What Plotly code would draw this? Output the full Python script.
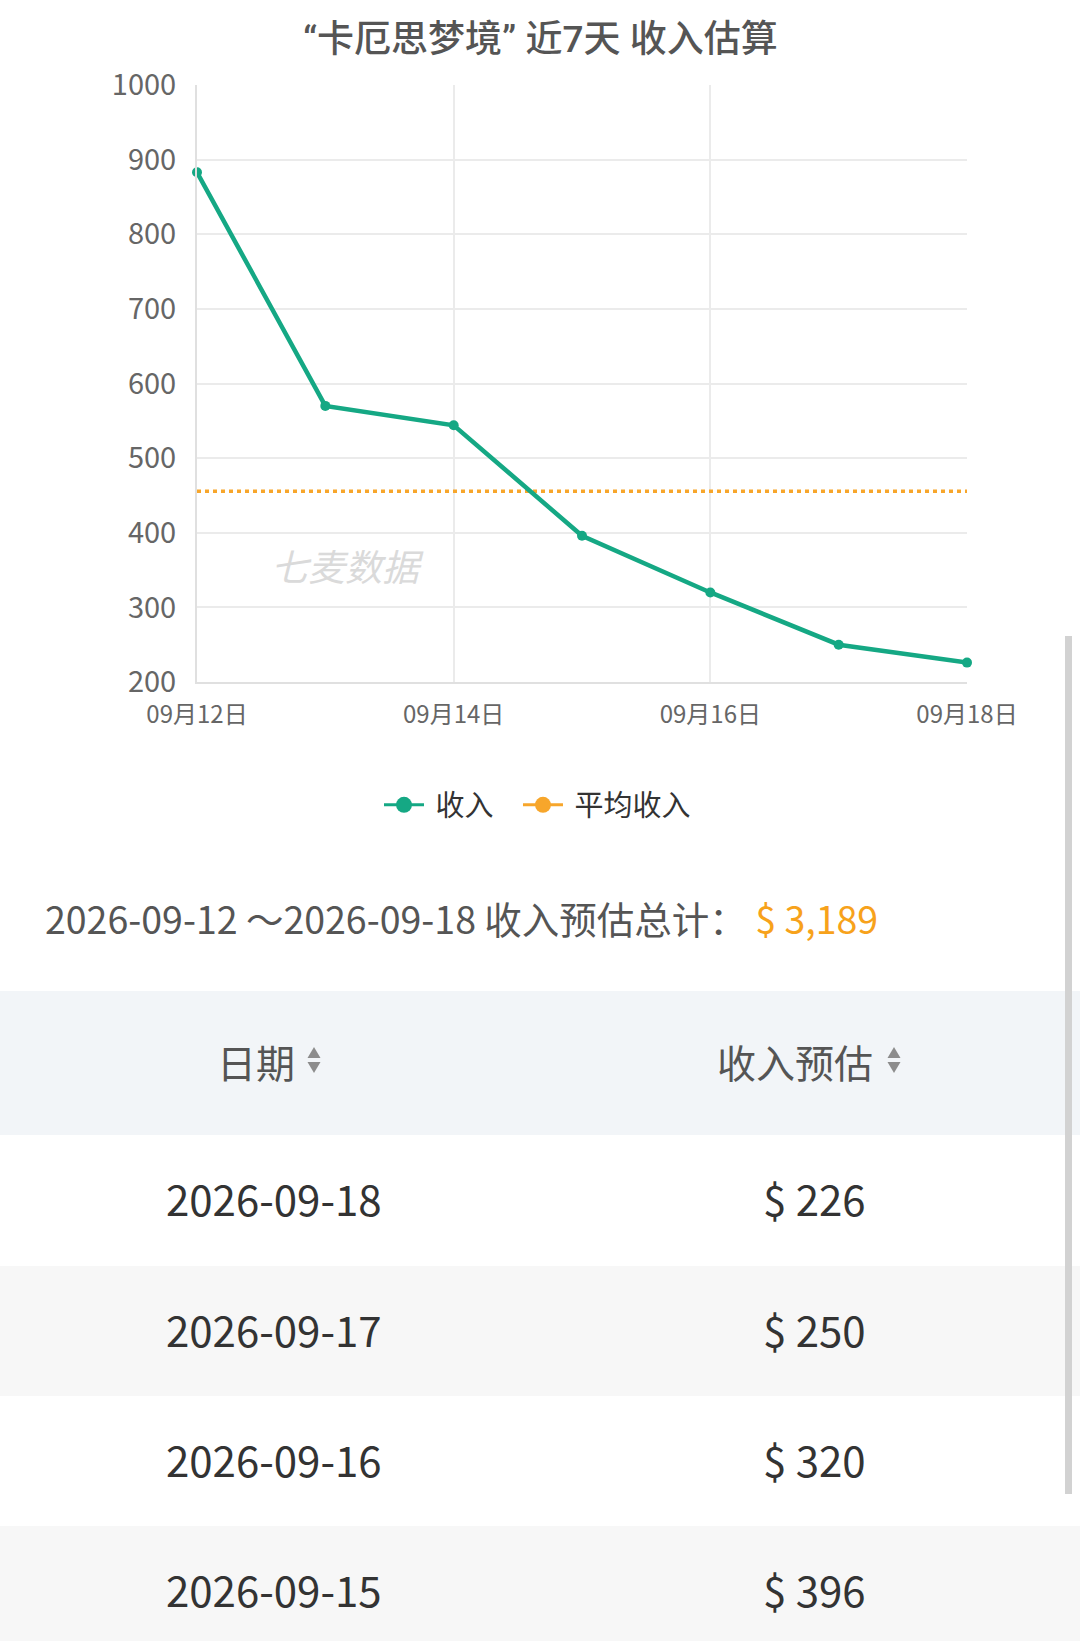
import plotly.graph_objects as go

# ---------------- data ----------------
dates = ["2026-09-12", "2026-09-13", "2026-09-14", "2026-09-15",
         "2026-09-16", "2026-09-17", "2026-09-18"]
day_labels = ["09月12日", "09月13日", "09月14日", "09月15日",
              "09月16日", "09月17日", "09月18日"]
revenue = [883, 570, 544, 396, 320, 250, 226]
y_ticks = [200, 300, 400, 500, 600, 700, 800, 900, 1000]
title_text = "“卡厄思梦境” 近7天 收入估算"
series_name = "收入"
avg_name = "平均收入"
watermark = "七麦数据"
header_labels = ["日期", "收入预估"]
visible_rows = 4

total = sum(revenue)
avg = total / len(revenue)

# ---------------- style ----------------
W, H = 1080, 1641
FONT = "Noto Sans CJK SC"
TITLE_FONT = "Roboto, Noto Sans CJK SC"
GREEN = "#15a884"
ORANGE = "#f7a62b"
GAP = "\u00a0"


def px(x):
    return x / W


def py(y):
    return 1 - y / H


fig = go.Figure()

fig.add_trace(go.Scatter(
    x=day_labels, y=[avg] * len(day_labels), mode="lines",
    line=dict(color=ORANGE, width=3.5, dash="4px,4px"),
    showlegend=False, hoverinfo="skip"))

fig.add_trace(go.Scatter(
    x=day_labels, y=revenue, mode="lines+markers",
    line=dict(color=GREEN, width=4.5),
    marker=dict(color=GREEN, size=10),
    showlegend=False, cliponaxis=False))

# legend-only entries
fig.add_trace(go.Scatter(
    x=[None], y=[None], mode="lines+markers", name=GAP + series_name + GAP * 3,
    line=dict(color=GREEN, width=3), marker=dict(color=GREEN, size=16)))
fig.add_trace(go.Scatter(
    x=[None], y=[None], mode="lines+markers", name=GAP + avg_name,
    line=dict(color=ORANGE, width=3), marker=dict(color=ORANGE, size=16)))

annotations = []
shapes = []

# title
annotations.append(dict(
    text=title_text, xref="paper", yref="paper", x=0.5, y=py(39),
    xanchor="center", yanchor="middle", showarrow=False,
    font=dict(family=TITLE_FONT, size=37, color="#555555", weight=500)))

# watermark
annotations.append(dict(
    text=watermark, xref="paper", yref="paper", x=px(347), y=py(565),
    xanchor="center", yanchor="middle", showarrow=False,
    font=dict(family=FONT, size=37, color="#dadada", style="italic")))

# total line
annotations.append(dict(
    text=f"{dates[0]} ～{dates[-1]} 收入预估总计： "
         f"<span style='color:#f7a21b'>$ {total:,}</span>",
    xref="paper", yref="paper", x=px(43), y=py(917),
    xanchor="left", yanchor="middle", showarrow=False,
    font=dict(family=FONT, size=37.5, color="#555555")))

# table header background
shapes.append(dict(type="rect", xref="paper", yref="paper", layer="below",
                   x0=0, x1=1, y0=py(1135), y1=py(991),
                   fillcolor="#f2f5f8", line=dict(width=0)))

header_centers = [256, 795]
icon_x = [314, 894]
for lab, cx, ix in zip(header_labels, header_centers, icon_x):
    annotations.append(dict(
        text=lab, xref="paper", yref="paper", x=px(cx), y=py(1061),
        xanchor="center", yanchor="middle", showarrow=False,
        font=dict(family=FONT, size=39, color="#555555")))
    # sort arrows
    up = f"M {px(ix-6.5)} {py(1058)} L {px(ix+6.5)} {py(1058)} L {px(ix)} {py(1047)} Z"
    dn = f"M {px(ix-6.5)} {py(1062)} L {px(ix+6.5)} {py(1062)} L {px(ix)} {py(1073)} Z"
    for p in (up, dn):
        shapes.append(dict(type="path", xref="paper", yref="paper", path=p,
                           fillcolor="#8c8c8c", line=dict(width=0)))

# table rows
row_tops = [1135, 1266, 1396, 1526]
row_bottoms = [1266, 1396, 1526, 1641]
row_text_y = [1197, 1328, 1458, 1588]
rows = list(zip(dates[::-1], revenue[::-1]))[:visible_rows]
for i, ((d, v), t, b, cy) in enumerate(zip(rows, row_tops, row_bottoms, row_text_y)):
    if i % 2 == 1:
        shapes.append(dict(type="rect", xref="paper", yref="paper", layer="below",
                           x0=0, x1=1, y0=py(b), y1=py(t),
                           fillcolor="#f7f7f7", line=dict(width=0)))
    annotations.append(dict(
        text=d, xref="paper", yref="paper", x=px(274), y=py(cy),
        xanchor="center", yanchor="middle", showarrow=False,
        font=dict(family=FONT, size=42, color="#333333")))
    annotations.append(dict(
        text=f"$ {v}", xref="paper", yref="paper", x=px(814), y=py(cy),
        xanchor="center", yanchor="middle", showarrow=False,
        font=dict(family=FONT, size=42, color="#333333")))

# scrollbar
shapes.append(dict(type="line", xref="paper", yref="paper",
                   x0=px(1068.5), x1=px(1068.5), y0=py(636), y1=py(1494),
                   line=dict(color="#d2d2d2", width=7)))

fig.update_layout(
    template="none",
    width=W, height=H, autosize=False,
    margin=dict(l=0, r=0, t=0, b=0, pad=0),
    paper_bgcolor="white", plot_bgcolor="white",
    font=dict(family=FONT, color="#333333"),
    xaxis=dict(
        domain=[px(197), px(967)], type="category",
        range=[0, len(day_labels) - 1], automargin=False,
        tickmode="array", tickvals=day_labels[::2], ticktext=day_labels[::2],
        showgrid=True, gridcolor="#ebebeb", gridwidth=1.5,
        showline=True, linecolor="#e0e0e0", linewidth=2,
        ticks="", ticklabelstandoff=10,
        tickfont=dict(family=FONT, size=24, color="#666666"),
        zeroline=False, fixedrange=True),
    yaxis=dict(
        domain=[py(682), py(85)], range=[200, 1000], automargin=False,
        tickmode="array", tickvals=y_ticks,
        showgrid=True, gridcolor="#ebebeb", gridwidth=1.5,
        showline=True, linecolor="#e0e0e0", linewidth=2,
        ticks="", ticklabelstandoff=13,
        tickfont=dict(family=FONT, size=29, color="#666666"),
        zeroline=False, fixedrange=True),
    legend=dict(orientation="h", x=px(379), xanchor="left",
                y=py(805), yanchor="middle",
                font=dict(family=FONT, size=29, color="#333333"),
                itemwidth=40, bgcolor="rgba(0,0,0,0)"),
    annotations=annotations,
    shapes=shapes,
    showlegend=True,
)

fig.write_html(
    "out.html",
    config={"displayModeBar": False},
    post_script="document.body.style.margin='0';document.body.style.overflow='hidden';",
)
